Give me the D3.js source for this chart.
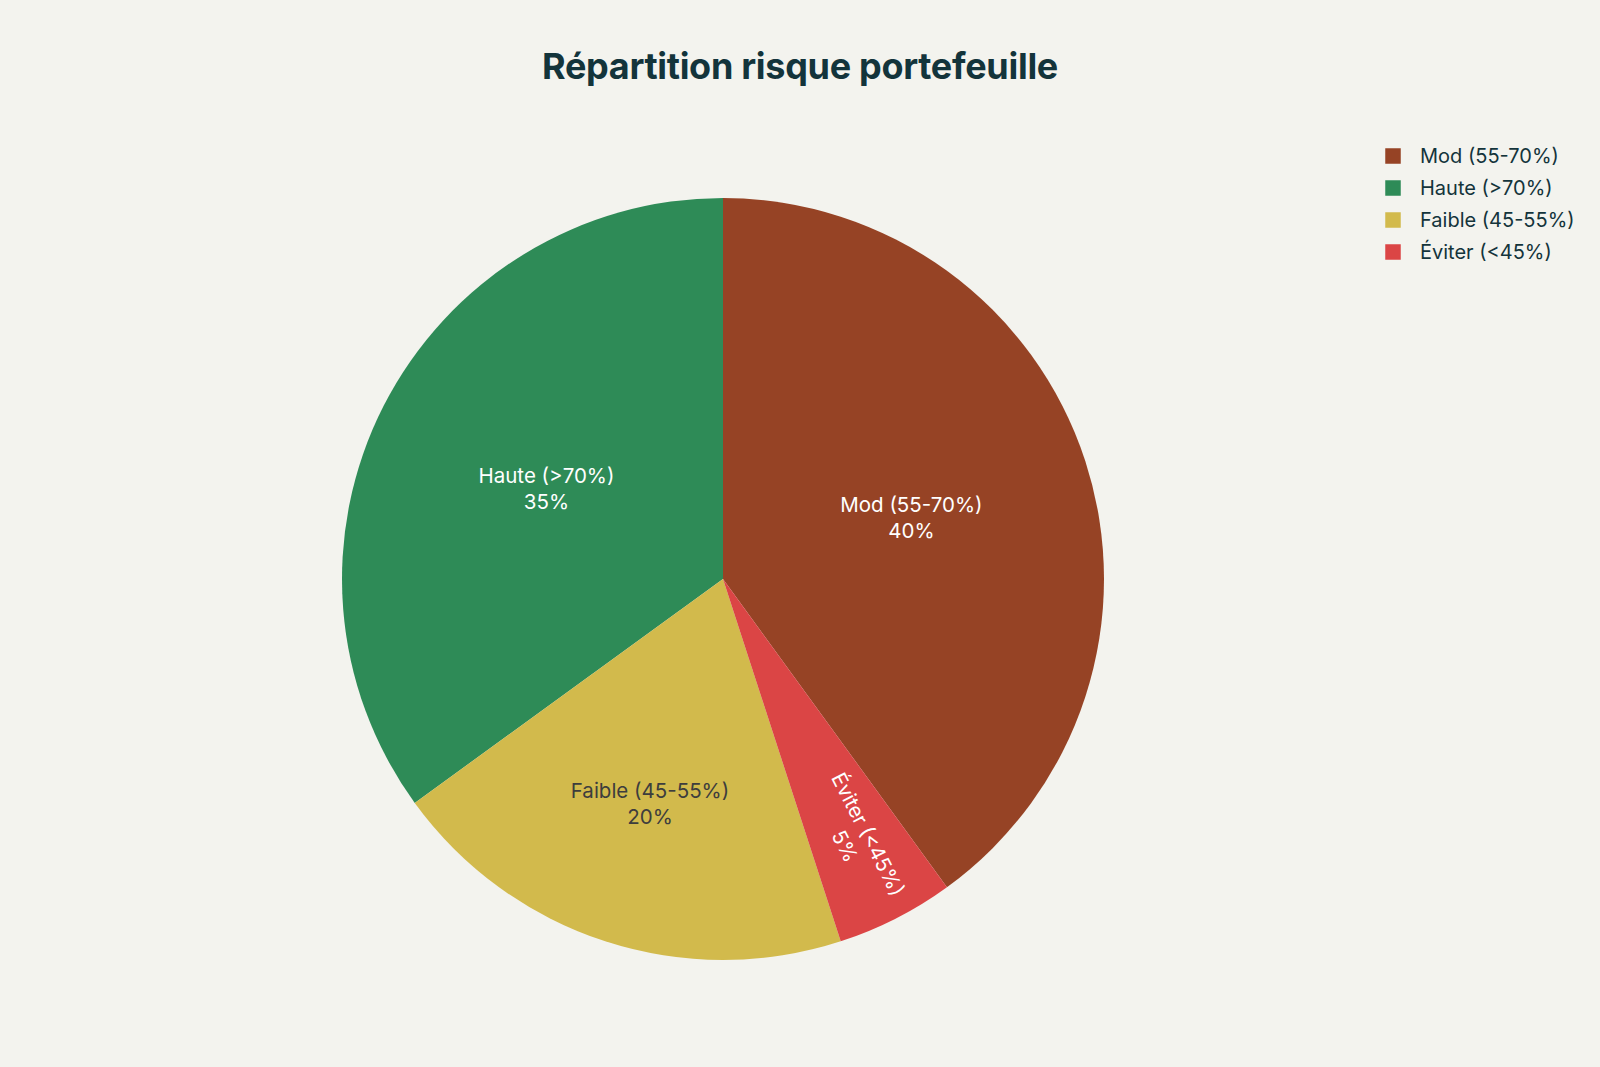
<!DOCTYPE html>
<html>
<head>
<meta charset="utf-8">
<script src="https://cdn.jsdelivr.net/npm/d3@7"></script>
<style>
    html, body { margin: 0; padding: 0; background: #F3F3EE; }
    svg { display: block; font-family: Inter, "Liberation Sans", sans-serif; }
</style>
</head>
<body>
<div id="chart"></div>
<script>
// data
var categories = ["Mod (55-70%)", "Haute (>70%)", "Faible (45-55%)", "Éviter (<45%)"];
var shares = [40, 35, 20, 5];
var sliceColors = ["#964325", "#2E8B57", "#D2BA4C", "#DB4545"];
var labelColors = ["#FFFFFF", "#FFFFFF", "#3D3D3D", "#FFFFFF"];
var chartTitle = "Répartition risque portefeuille";

document.addEventListener("DOMContentLoaded", function () {
    var svgWidth = 1600,
        svgHeight = 1067,
        cx = 723,
        cy = 579,
        radius = 381;

    var data = categories.map(function (c, i) {
        return { name: c, value: shares[i], color: sliceColors[i], label: labelColors[i] };
    });
    var total = d3.sum(shares);

    var svg = d3.select("#chart")
        .append("svg")
        .attr("width", svgWidth)
        .attr("height", svgHeight);

    svg.append("rect")
        .attr("width", svgWidth)
        .attr("height", svgHeight)
        .attr("fill", "#F3F3EE");

    // title
    svg.append("text")
        .attr("x", 800)
        .attr("y", 79)
        .attr("text-anchor", "middle")
        .attr("font-size", 36)
        .attr("font-weight", 700)
        .attr("letter-spacing", "-0.3")
        .attr("fill", "#13343B")
        .text(chartTitle);

    // first slice ends at 12 o'clock, the rest go counterclockwise
    var start = 2 * Math.PI * shares[0] / total;
    var pie = d3.pie()
        .sort(null)
        .value(d => d.value)
        .startAngle(start)
        .endAngle(start - 2 * Math.PI);

    var arc = d3.arc().innerRadius(0).outerRadius(radius);

    var g = svg.append("g")
        .attr("transform", `translate(${cx},${cy})`);

    var slices = pie(data);

    g.selectAll(".slice")
        .data(slices)
        .enter()
        .append("path")
        .attr("class", "slice")
        .attr("d", arc)
        .attr("fill", d => d.data.color);

    // inside labels, pushed outward on the thin slices
    var labels = g.selectAll(".lbl")
        .data(slices)
        .enter()
        .append("g")
        .attr("class", "lbl")
        .attr("transform", function (d) {
            var f = d.data.value / total;
            var mid = (d.startAngle + d.endAngle) / 2;
            var r = radius * Math.max(0.52, 0.82 - f);
            var x = Math.sin(mid) * r,
                y = -Math.cos(mid) * r;
            var rot = f < 0.1 ? (mid * 180 / Math.PI) - 90 : 0;
            return `translate(${x},${y}) rotate(${rot})`;
        });

    labels.append("text")
        .attr("text-anchor", "middle")
        .attr("font-size", 20.5)
        .attr("fill", d => d.data.label)
        .attr("y", -6)
        .text(d => d.data.name);

    labels.append("text")
        .attr("text-anchor", "middle")
        .attr("font-size", 20.5)
        .attr("fill", d => d.data.label)
        .attr("y", 20)
        .text(d => Math.round(d.data.value / total * 100) + "%");

    // legend
    var legend = svg.selectAll(".legend")
        .data(data)
        .enter()
        .append("g")
        .attr("class", "legend")
        .attr("transform", (d, i) => `translate(1385,${156 + i * 32})`);

    legend.append("rect")
        .attr("x", 0)
        .attr("y", -8)
        .attr("width", 16)
        .attr("height", 16)
        .attr("fill", d => d.color)
        .attr("stroke", "#F3F3EE")
        .attr("stroke-width", 0.5);

    legend.append("text")
        .attr("x", 35)
        .attr("y", 7)
        .attr("font-size", 20)
        .attr("fill", "#13343B")
        .text(d => d.name);
});
</script>
</body>
</html>
